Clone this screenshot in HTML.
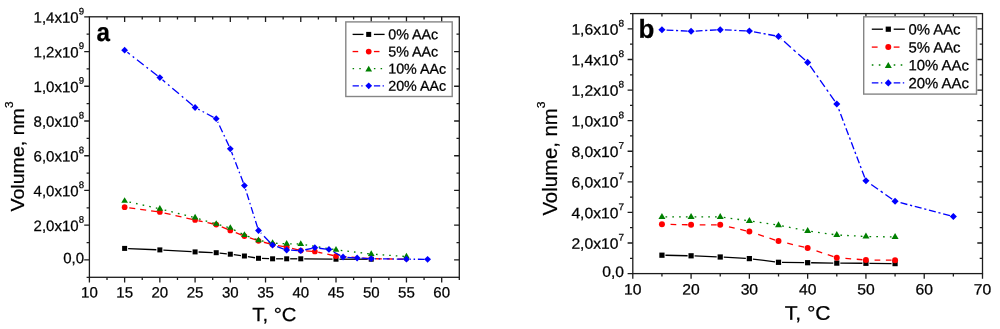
<!DOCTYPE html>
<html><head><meta charset="utf-8"><title>Volume vs T</title>
<style>html,body{margin:0;padding:0;background:#fff;}body{width:1000px;height:329px;overflow:hidden;}svg{display:block;will-change:transform;}svg text{font-family:"Liberation Sans", sans-serif;fill:#000;stroke:#000;stroke-width:0.25px;}</style>
</head><body>
<svg width="1000" height="329" viewBox="0 0 1000 329">
<rect width="1000" height="329" fill="#fff"/>
<g id="chart-a">
<path d="M89.4 277.3v5.2 M107.01 277.3v2.8 M107.01 16.8v2.8 M124.63 277.3v5.2 M124.63 16.8v5.2 M142.24 277.3v2.8 M142.24 16.8v2.8 M159.86 277.3v5.2 M159.86 16.8v5.2 M177.47 277.3v2.8 M177.47 16.8v2.8 M195.09 277.3v5.2 M195.09 16.8v5.2 M212.7 277.3v2.8 M212.7 16.8v2.8 M230.31 277.3v5.2 M230.31 16.8v5.2 M247.93 277.3v2.8 M247.93 16.8v2.8 M265.54 277.3v5.2 M265.54 16.8v5.2 M283.16 277.3v2.8 M283.16 16.8v2.8 M300.77 277.3v5.2 M300.77 16.8v5.2 M318.39 277.3v2.8 M318.39 16.8v2.8 M336 277.3v5.2 M336 16.8v5.2 M353.61 277.3v2.8 M353.61 16.8v2.8 M371.23 277.3v5.2 M371.23 16.8v5.2 M388.84 277.3v2.8 M388.84 16.8v2.8 M406.46 277.3v5.2 M406.46 16.8v5.2 M424.07 277.3v2.8 M424.07 16.8v2.8 M441.69 277.3v5.2 M441.69 16.8v5.2 M459.3 277.3v2.8 M89.4 277.3h-2.8 M89.4 259.93h-5.2 M459.3 259.93h-5.2 M89.4 242.57h-2.8 M459.3 242.57h-2.8 M89.4 225.2h-5.2 M459.3 225.2h-5.2 M89.4 207.83h-2.8 M459.3 207.83h-2.8 M89.4 190.47h-5.2 M459.3 190.47h-5.2 M89.4 173.1h-2.8 M459.3 173.1h-2.8 M89.4 155.73h-5.2 M459.3 155.73h-5.2 M89.4 138.37h-2.8 M459.3 138.37h-2.8 M89.4 121h-5.2 M459.3 121h-5.2 M89.4 103.63h-2.8 M459.3 103.63h-2.8 M89.4 86.27h-5.2 M459.3 86.27h-5.2 M89.4 68.9h-2.8 M459.3 68.9h-2.8 M89.4 51.53h-5.2 M459.3 51.53h-5.2 M89.4 34.17h-2.8 M459.3 34.17h-2.8 M89.4 16.8h-5.2" stroke="#1c1c1c" stroke-width="1.3" fill="none"/>
<rect x="89.4" y="16.8" width="369.9" height="260.5" fill="none" stroke="#1c1c1c" stroke-width="1.3"/>
<text transform="translate(89.4 297.5) rotate(0.1)" font-size="15" text-anchor="middle">10</text>
<text transform="translate(124.63 297.5) rotate(0.1)" font-size="15" text-anchor="middle">15</text>
<text transform="translate(159.86 297.5) rotate(0.1)" font-size="15" text-anchor="middle">20</text>
<text transform="translate(195.09 297.5) rotate(0.1)" font-size="15" text-anchor="middle">25</text>
<text transform="translate(230.31 297.5) rotate(0.1)" font-size="15" text-anchor="middle">30</text>
<text transform="translate(265.54 297.5) rotate(0.1)" font-size="15" text-anchor="middle">35</text>
<text transform="translate(300.77 297.5) rotate(0.1)" font-size="15" text-anchor="middle">40</text>
<text transform="translate(336 297.5) rotate(0.1)" font-size="15" text-anchor="middle">45</text>
<text transform="translate(371.23 297.5) rotate(0.1)" font-size="15" text-anchor="middle">50</text>
<text transform="translate(406.46 297.5) rotate(0.1)" font-size="15" text-anchor="middle">55</text>
<text transform="translate(441.69 297.5) rotate(0.1)" font-size="15" text-anchor="middle">60</text>
<text transform="translate(84 263.33) rotate(0.1)" font-size="15" text-anchor="end">0,0</text>
<text transform="translate(84 231.1) rotate(0.1)" font-size="15" text-anchor="end">2,0x10<tspan font-size="9.6" dy="-8.3">8</tspan></text>
<text transform="translate(84 196.37) rotate(0.1)" font-size="15" text-anchor="end">4,0x10<tspan font-size="9.6" dy="-8.3">8</tspan></text>
<text transform="translate(84 161.63) rotate(0.1)" font-size="15" text-anchor="end">6,0x10<tspan font-size="9.6" dy="-8.3">8</tspan></text>
<text transform="translate(84 126.9) rotate(0.1)" font-size="15" text-anchor="end">8,0x10<tspan font-size="9.6" dy="-8.3">8</tspan></text>
<text transform="translate(84 92.17) rotate(0.1)" font-size="15" text-anchor="end">1,0x10<tspan font-size="9.6" dy="-8.3">9</tspan></text>
<text transform="translate(84 57.43) rotate(0.1)" font-size="15" text-anchor="end">1,2x10<tspan font-size="9.6" dy="-8.3">9</tspan></text>
<text transform="translate(84 22.7) rotate(0.1)" font-size="15" text-anchor="end">1,4x10<tspan font-size="9.6" dy="-8.3">9</tspan></text>
<text transform="translate(274.4 321.1) rotate(0.1) scale(1.07 1.0)" font-size="19" text-anchor="middle">T, °C</text>
<text transform="translate(24.2 211.6) rotate(-90) scale(1.033 1.0)" font-size="19">Volume, nm<tspan font-size="11.5" dy="-10.9">3</tspan></text>
<text transform="translate(96.6 41) rotate(0.1) scale(0.93 1.0)" font-size="26" font-weight="bold">a</text>
<line x1="156.36" y1="249.75" x2="128.13" y2="248.55" stroke="#000000" stroke-width="1.32"/>
<line x1="191.59" y1="251.7" x2="163.35" y2="250.1" stroke="#000000" stroke-width="1.32"/>
<line x1="212.73" y1="252.57" x2="198.58" y2="252.03" stroke="#000000" stroke-width="1.32"/>
<line x1="226.83" y1="253.83" x2="219.7" y2="253.07" stroke="#000000" stroke-width="1.32"/>
<line x1="240.93" y1="255.56" x2="233.79" y2="254.64" stroke="#000000" stroke-width="1.32"/>
<line x1="255.04" y1="257.74" x2="247.86" y2="256.56" stroke="#000000" stroke-width="1.32"/>
<line x1="269.09" y1="258.68" x2="261.99" y2="258.42" stroke="#000000" stroke-width="1.32"/>
<line x1="283.18" y1="258.8" x2="276.09" y2="258.8" stroke="#000000" stroke-width="1.32"/>
<line x1="297.27" y1="258.8" x2="290.18" y2="258.8" stroke="#000000" stroke-width="1.32"/>
<line x1="332.5" y1="259.16" x2="304.27" y2="258.84" stroke="#000000" stroke-width="1.32"/>
<line x1="367.73" y1="259.2" x2="339.5" y2="259.2" stroke="#000000" stroke-width="1.32"/>
<rect x="122.13" y="245.9" width="5" height="5" fill="#000000"/>
<rect x="157.36" y="247.4" width="5" height="5" fill="#000000"/>
<rect x="192.59" y="249.4" width="5" height="5" fill="#000000"/>
<rect x="213.72" y="250.2" width="5" height="5" fill="#000000"/>
<rect x="227.81" y="251.7" width="5" height="5" fill="#000000"/>
<rect x="241.91" y="253.5" width="5" height="5" fill="#000000"/>
<rect x="256" y="255.8" width="5" height="5" fill="#000000"/>
<rect x="270.09" y="256.3" width="5" height="5" fill="#000000"/>
<rect x="284.18" y="256.3" width="5" height="5" fill="#000000"/>
<rect x="298.27" y="256.3" width="5" height="5" fill="#000000"/>
<rect x="333.5" y="256.7" width="5" height="5" fill="#000000"/>
<rect x="368.73" y="256.7" width="5" height="5" fill="#000000"/>
<line x1="157.08" y1="211.62" x2="128.1" y2="207.67" stroke="#ff0000" stroke-width="1.32" stroke-dasharray="6.06 4.95"/>
<line x1="192.36" y1="219.38" x2="163.27" y2="212.78" stroke="#ff0000" stroke-width="1.32" stroke-dasharray="6.15 5.02"/>
<line x1="213.49" y1="224" x2="198.51" y2="220.74" stroke="#ff0000" stroke-width="1.32" stroke-dasharray="6.14 5.01"/>
<line x1="227.73" y1="229.42" x2="219.45" y2="225.95" stroke="#ff0000" stroke-width="1.32" stroke-dasharray="6.5 5.31"/>
<line x1="241.8" y1="235.07" x2="233.57" y2="231.79" stroke="#ff0000" stroke-width="1.32" stroke-dasharray="6.46 5.27"/>
<line x1="255.84" y1="239.91" x2="247.73" y2="237.21" stroke="#ff0000" stroke-width="1.32" stroke-dasharray="6.32 5.17"/>
<line x1="269.89" y1="243.87" x2="261.88" y2="241.71" stroke="#ff0000" stroke-width="1.32" stroke-dasharray="6.21 5.08"/>
<line x1="283.93" y1="246.69" x2="276.03" y2="245.24" stroke="#ff0000" stroke-width="1.32" stroke-dasharray="6.1 4.98"/>
<line x1="298.05" y1="249.86" x2="290.09" y2="248" stroke="#ff0000" stroke-width="1.32" stroke-dasharray="6.16 5.03"/>
<line x1="312.07" y1="251.3" x2="304.26" y2="250.75" stroke="#ff0000" stroke-width="1.32" stroke-dasharray="6.02 4.91"/>
<line x1="333.26" y1="255.5" x2="318.28" y2="252.24" stroke="#ff0000" stroke-width="1.32" stroke-dasharray="6.14 5.01"/>
<line x1="368.44" y1="258.49" x2="339.49" y2="256.36" stroke="#ff0000" stroke-width="1.32" stroke-dasharray="6.02 4.91"/>
<line x1="403.66" y1="259.16" x2="374.73" y2="258.75" stroke="#ff0000" stroke-width="1.32" stroke-dasharray="6 4.9"/>
<circle cx="124.63" cy="207.2" r="2.85" fill="#ff0000"/>
<circle cx="159.86" cy="212" r="2.85" fill="#ff0000"/>
<circle cx="195.09" cy="220" r="2.85" fill="#ff0000"/>
<circle cx="216.22" cy="224.6" r="2.85" fill="#ff0000"/>
<circle cx="230.31" cy="230.5" r="2.85" fill="#ff0000"/>
<circle cx="244.41" cy="236.1" r="2.85" fill="#ff0000"/>
<circle cx="258.5" cy="240.8" r="2.85" fill="#ff0000"/>
<circle cx="272.59" cy="244.6" r="2.85" fill="#ff0000"/>
<circle cx="286.68" cy="247.2" r="2.85" fill="#ff0000"/>
<circle cx="300.77" cy="250.5" r="2.85" fill="#ff0000"/>
<circle cx="314.86" cy="251.5" r="2.85" fill="#ff0000"/>
<circle cx="336" cy="256.1" r="2.85" fill="#ff0000"/>
<circle cx="371.23" cy="258.7" r="2.28" fill="#ff0000"/>
<circle cx="406.46" cy="259.2" r="2.28" fill="#ff0000"/>
<line x1="157.42" y1="208.3" x2="128.04" y2="201.72" stroke="#008000" stroke-width="1.32" stroke-dasharray="1.64 5.12"/>
<line x1="192.66" y1="217.04" x2="163.25" y2="209.7" stroke="#008000" stroke-width="1.32" stroke-dasharray="1.65 5.15"/>
<line x1="213.83" y1="223.24" x2="198.44" y2="218.65" stroke="#008000" stroke-width="1.32" stroke-dasharray="1.67 5.22"/>
<line x1="227.91" y1="227.27" x2="219.59" y2="224.91" stroke="#008000" stroke-width="1.32" stroke-dasharray="1.66 5.2"/>
<line x1="242.17" y1="233.93" x2="233.44" y2="229.52" stroke="#008000" stroke-width="1.32" stroke-dasharray="1.79 5.6"/>
<line x1="256.15" y1="239.38" x2="247.69" y2="236.26" stroke="#008000" stroke-width="1.32" stroke-dasharray="1.71 5.33"/>
<line x1="270.14" y1="242.56" x2="261.93" y2="240.93" stroke="#008000" stroke-width="1.32" stroke-dasharray="1.63 5.1"/>
<line x1="284.18" y1="243.63" x2="276.08" y2="243.22" stroke="#008000" stroke-width="1.32" stroke-dasharray="1.6 5.01"/>
<line x1="298.27" y1="244" x2="290.18" y2="243.82" stroke="#008000" stroke-width="1.32" stroke-dasharray="1.6 5"/>
<line x1="333.53" y1="249.44" x2="304.22" y2="244.62" stroke="#008000" stroke-width="1.32" stroke-dasharray="1.62 5.07"/>
<line x1="368.75" y1="253.75" x2="339.48" y2="250.26" stroke="#008000" stroke-width="1.32" stroke-dasharray="1.61 5.04"/>
<line x1="403.96" y1="256.37" x2="374.72" y2="254.3" stroke="#008000" stroke-width="1.32" stroke-dasharray="1.6 5.01"/>
<polygon points="124.63,197.15 121.28,202.85 127.98,202.85" fill="#008000"/>
<polygon points="159.86,205.05 156.51,210.75 163.21,210.75" fill="#008000"/>
<polygon points="195.09,213.85 191.74,219.55 198.44,219.55" fill="#008000"/>
<polygon points="216.22,220.15 212.87,225.85 219.57,225.85" fill="#008000"/>
<polygon points="230.31,224.15 226.96,229.85 233.66,229.85" fill="#008000"/>
<polygon points="244.41,231.25 241.06,236.95 247.76,236.95" fill="#008000"/>
<polygon points="258.5,236.45 255.15,242.15 261.85,242.15" fill="#008000"/>
<polygon points="272.59,239.25 269.24,244.95 275.94,244.95" fill="#008000"/>
<polygon points="286.68,239.95 283.33,245.65 290.03,245.65" fill="#008000"/>
<polygon points="300.77,240.25 297.42,245.95 304.12,245.95" fill="#008000"/>
<polygon points="336,246.05 332.65,251.75 339.35,251.75" fill="#008000"/>
<polygon points="371.23,250.25 367.88,255.95 374.58,255.95" fill="#008000"/>
<polygon points="406.46,252.75 403.11,258.45 409.81,258.45" fill="#008000"/>
<line x1="157.49" y1="75.76" x2="127.39" y2="52.35" stroke="#0000ff" stroke-width="1.32" stroke-dasharray="8.49 3.55 1.9 3.55"/>
<line x1="192.8" y1="105.56" x2="162.53" y2="79.86" stroke="#0000ff" stroke-width="1.32" stroke-dasharray="8.79 3.67 1.97 3.67"/>
<line x1="213.57" y1="117.3" x2="198.18" y2="109.14" stroke="#0000ff" stroke-width="1.32" stroke-dasharray="7.58 3.17 1.7 3.17"/>
<line x1="229.04" y1="146.08" x2="217.71" y2="121.87" stroke="#0000ff" stroke-width="1.32" stroke-dasharray="7.4 3.09 1.66 3.09"/>
<line x1="243.33" y1="182.8" x2="231.57" y2="152.07" stroke="#0000ff" stroke-width="1.32" stroke-dasharray="7.17 3 1.61 3"/>
<line x1="257.6" y1="227.64" x2="245.45" y2="188.94" stroke="#0000ff" stroke-width="1.32" stroke-dasharray="7.02 2.93 1.57 2.93"/>
<line x1="270.51" y1="242.94" x2="260.93" y2="233.02" stroke="#0000ff" stroke-width="1.32" stroke-dasharray="9.31 3.89 2.08 3.89"/>
<line x1="283.85" y1="249.01" x2="275.89" y2="246.25" stroke="#0000ff" stroke-width="1.32" stroke-dasharray="7.09 2.96 1.59 2.96"/>
<line x1="297.78" y1="250.55" x2="290.18" y2="250.17" stroke="#0000ff" stroke-width="1.32" stroke-dasharray="6.71 2.8 1.5 2.8"/>
<line x1="311.93" y1="248.32" x2="304.19" y2="249.97" stroke="#0000ff" stroke-width="1.32" stroke-dasharray="6.85 2.86 1.53 2.86"/>
<line x1="325.98" y1="249.04" x2="318.34" y2="248.12" stroke="#0000ff" stroke-width="1.32" stroke-dasharray="6.75 2.82 1.51 2.82"/>
<line x1="340.41" y1="255.58" x2="332.03" y2="251.06" stroke="#0000ff" stroke-width="1.32" stroke-dasharray="7.61 3.18 1.7 3.18"/>
<line x1="354.14" y1="257.79" x2="346.54" y2="257.25" stroke="#0000ff" stroke-width="1.32" stroke-dasharray="6.72 2.81 1.5 2.81"/>
<line x1="368.23" y1="258.55" x2="360.63" y2="258.17" stroke="#0000ff" stroke-width="1.32" stroke-dasharray="6.71 2.8 1.5 2.8"/>
<line x1="403.46" y1="259.16" x2="374.73" y2="258.75" stroke="#0000ff" stroke-width="1.32" stroke-dasharray="6.7 2.8 1.5 2.8"/>
<line x1="424.59" y1="259.29" x2="409.96" y2="259.22" stroke="#0000ff" stroke-width="1.32" stroke-dasharray="6.7 2.8 1.5 2.8"/>
<polygon points="124.63,46.8 128.03,50.2 124.63,53.6 121.23,50.2" fill="#0000ff"/>
<polygon points="159.86,74.2 163.26,77.6 159.86,81 156.46,77.6" fill="#0000ff"/>
<polygon points="195.09,104.1 198.49,107.5 195.09,110.9 191.69,107.5" fill="#0000ff"/>
<polygon points="216.22,115.3 219.62,118.7 216.22,122.1 212.82,118.7" fill="#0000ff"/>
<polygon points="230.31,145.4 233.71,148.8 230.31,152.2 226.91,148.8" fill="#0000ff"/>
<polygon points="244.41,182.2 247.81,185.6 244.41,189 241.01,185.6" fill="#0000ff"/>
<polygon points="258.5,227.1 261.9,230.5 258.5,233.9 255.1,230.5" fill="#0000ff"/>
<polygon points="272.59,241.7 275.99,245.1 272.59,248.5 269.19,245.1" fill="#0000ff"/>
<polygon points="286.68,246.6 290.08,250 286.68,253.4 283.28,250" fill="#0000ff"/>
<polygon points="300.77,247.3 304.17,250.7 300.77,254.1 297.37,250.7" fill="#0000ff"/>
<polygon points="314.86,244.3 318.26,247.7 314.86,251.1 311.46,247.7" fill="#0000ff"/>
<polygon points="328.95,246 332.35,249.4 328.95,252.8 325.55,249.4" fill="#0000ff"/>
<polygon points="343.05,253.6 346.45,257 343.05,260.4 339.65,257" fill="#0000ff"/>
<polygon points="357.14,254.6 360.54,258 357.14,261.4 353.74,258" fill="#0000ff"/>
<polygon points="371.23,255.3 374.63,258.7 371.23,262.1 367.83,258.7" fill="#0000ff"/>
<polygon points="406.46,255.8 409.86,259.2 406.46,262.6 403.06,259.2" fill="#0000ff"/>
<polygon points="427.59,255.9 430.99,259.3 427.59,262.7 424.19,259.3" fill="#0000ff"/>
<rect x="345.8" y="21.9" width="106.4" height="74.6" fill="#fff" stroke="#858585" stroke-width="1.4"/>
<line x1="352.6" y1="34.4" x2="363.5" y2="34.4" stroke="#000000" stroke-width="1.32"/>
<line x1="373.9" y1="34.4" x2="384.6" y2="34.4" stroke="#000000" stroke-width="1.32"/>
<rect x="366.2" y="31.9" width="5" height="5" fill="#000000"/>
<text transform="translate(388.2 39.3) rotate(0.1)" font-size="14.3">0% AAc</text>
<line x1="352.6" y1="51.55" x2="363.5" y2="51.55" stroke="#ff0000" stroke-width="1.32" stroke-dasharray="5.6 6"/>
<line x1="373.9" y1="51.55" x2="384.6" y2="51.55" stroke="#ff0000" stroke-width="1.32" stroke-dasharray="5.6 6"/>
<circle cx="368.7" cy="51.55" r="2.85" fill="#ff0000"/>
<text transform="translate(388.2 56.45) rotate(0.1)" font-size="14.3">5% AAc</text>
<line x1="352.6" y1="68.7" x2="363.5" y2="68.7" stroke="#008000" stroke-width="1.32" stroke-dasharray="1.5 5.2"/>
<line x1="373.9" y1="68.7" x2="384.6" y2="68.7" stroke="#008000" stroke-width="1.32" stroke-dasharray="1.5 5.2"/>
<polygon points="368.7,65.85 365.35,71.55 372.05,71.55" fill="#008000"/>
<text transform="translate(388.2 73.6) rotate(0.1)" font-size="14.3">10% AAc</text>
<line x1="352.6" y1="85.85" x2="363.5" y2="85.85" stroke="#0000ff" stroke-width="1.32" stroke-dasharray="6.3 2.4 1.3 2.4"/>
<line x1="373.9" y1="85.85" x2="384.6" y2="85.85" stroke="#0000ff" stroke-width="1.32" stroke-dasharray="6.3 2.4 1.3 2.4"/>
<polygon points="368.7,82.45 372.1,85.85 368.7,89.25 365.3,85.85" fill="#0000ff"/>
<text transform="translate(388.2 90.75) rotate(0.1)" font-size="14.3">20% AAc</text>
</g>
<g id="chart-b">
<path d="M632.8 273.6v5.2 M661.94 273.6v2.8 M661.94 13.6v2.8 M691.08 273.6v5.2 M691.08 13.6v5.2 M720.22 273.6v2.8 M720.22 13.6v2.8 M749.37 273.6v5.2 M749.37 13.6v5.2 M778.51 273.6v2.8 M778.51 13.6v2.8 M807.65 273.6v5.2 M807.65 13.6v5.2 M836.79 273.6v2.8 M836.79 13.6v2.8 M865.93 273.6v5.2 M865.93 13.6v5.2 M895.08 273.6v2.8 M895.08 13.6v2.8 M924.22 273.6v5.2 M924.22 13.6v5.2 M953.36 273.6v2.8 M953.36 13.6v2.8 M982.5 273.6v5.2 M632.8 273.6h-5.2 M632.8 258.31h-2.8 M982.5 258.31h-2.8 M632.8 243.01h-5.2 M982.5 243.01h-5.2 M632.8 227.72h-2.8 M982.5 227.72h-2.8 M632.8 212.42h-5.2 M982.5 212.42h-5.2 M632.8 197.13h-2.8 M982.5 197.13h-2.8 M632.8 181.84h-5.2 M982.5 181.84h-5.2 M632.8 166.54h-2.8 M982.5 166.54h-2.8 M632.8 151.25h-5.2 M982.5 151.25h-5.2 M632.8 135.95h-2.8 M982.5 135.95h-2.8 M632.8 120.66h-5.2 M982.5 120.66h-5.2 M632.8 105.36h-2.8 M982.5 105.36h-2.8 M632.8 90.07h-5.2 M982.5 90.07h-5.2 M632.8 74.78h-2.8 M982.5 74.78h-2.8 M632.8 59.48h-5.2 M982.5 59.48h-5.2 M632.8 44.19h-2.8 M982.5 44.19h-2.8 M632.8 28.89h-5.2 M982.5 28.89h-5.2 M632.8 13.6h-2.8" stroke="#1c1c1c" stroke-width="1.3" fill="none"/>
<rect x="632.8" y="13.6" width="349.7" height="260" fill="none" stroke="#1c1c1c" stroke-width="1.3"/>
<text transform="translate(632.8 294.6) rotate(0.1) scale(1.045 1.0)" font-size="15" text-anchor="middle">10</text>
<text transform="translate(691.08 294.6) rotate(0.1) scale(1.045 1.0)" font-size="15" text-anchor="middle">20</text>
<text transform="translate(749.37 294.6) rotate(0.1) scale(1.045 1.0)" font-size="15" text-anchor="middle">30</text>
<text transform="translate(807.65 294.6) rotate(0.1) scale(1.045 1.0)" font-size="15" text-anchor="middle">40</text>
<text transform="translate(865.93 294.6) rotate(0.1) scale(1.045 1.0)" font-size="15" text-anchor="middle">50</text>
<text transform="translate(924.22 294.6) rotate(0.1) scale(1.045 1.0)" font-size="15" text-anchor="middle">60</text>
<text transform="translate(982.5 294.6) rotate(0.1) scale(1.045 1.0)" font-size="15" text-anchor="middle">70</text>
<text transform="translate(624 276.9) rotate(0.1) scale(1.045 1.0)" font-size="15" text-anchor="end">0,0</text>
<text transform="translate(624 248.81) rotate(0.1) scale(1.045 1.0)" font-size="15" text-anchor="end">2,0x10<tspan font-size="9.6" dy="-8.3">7</tspan></text>
<text transform="translate(624 218.22) rotate(0.1) scale(1.045 1.0)" font-size="15" text-anchor="end">4,0x10<tspan font-size="9.6" dy="-8.3">7</tspan></text>
<text transform="translate(624 187.64) rotate(0.1) scale(1.045 1.0)" font-size="15" text-anchor="end">6,0x10<tspan font-size="9.6" dy="-8.3">7</tspan></text>
<text transform="translate(624 157.05) rotate(0.1) scale(1.045 1.0)" font-size="15" text-anchor="end">8,0x10<tspan font-size="9.6" dy="-8.3">7</tspan></text>
<text transform="translate(624 126.46) rotate(0.1) scale(1.045 1.0)" font-size="15" text-anchor="end">1,0x10<tspan font-size="9.6" dy="-8.3">8</tspan></text>
<text transform="translate(624 95.87) rotate(0.1) scale(1.045 1.0)" font-size="15" text-anchor="end">1,2x10<tspan font-size="9.6" dy="-8.3">8</tspan></text>
<text transform="translate(624 65.28) rotate(0.1) scale(1.045 1.0)" font-size="15" text-anchor="end">1,4x10<tspan font-size="9.6" dy="-8.3">8</tspan></text>
<text transform="translate(624 34.69) rotate(0.1) scale(1.045 1.0)" font-size="15" text-anchor="end">1,6x10<tspan font-size="9.6" dy="-8.3">8</tspan></text>
<text transform="translate(807.6 319.7) rotate(0.1) scale(1.07 1.0)" font-size="19.7" text-anchor="middle">T, °C</text>
<text transform="translate(557.3 215.6) rotate(-90) scale(1.033 1.0)" font-size="19.7">Volume, nm<tspan font-size="11.8" dy="-12">3</tspan></text>
<text transform="translate(638.5 37.7) rotate(0.1)" font-size="26" font-weight="bold">b</text>
<line x1="687.58" y1="255.73" x2="665.44" y2="255.27" stroke="#000000" stroke-width="1.32"/>
<line x1="716.73" y1="256.86" x2="694.58" y2="255.94" stroke="#000000" stroke-width="1.32"/>
<line x1="745.87" y1="258.41" x2="723.72" y2="257.19" stroke="#000000" stroke-width="1.32"/>
<line x1="775.04" y1="261.86" x2="752.84" y2="259.04" stroke="#000000" stroke-width="1.32"/>
<line x1="804.15" y1="262.65" x2="782.01" y2="262.35" stroke="#000000" stroke-width="1.32"/>
<line x1="833.29" y1="263.05" x2="811.15" y2="262.75" stroke="#000000" stroke-width="1.32"/>
<line x1="862.43" y1="263.28" x2="840.29" y2="263.12" stroke="#000000" stroke-width="1.32"/>
<line x1="891.58" y1="263.56" x2="869.43" y2="263.34" stroke="#000000" stroke-width="1.32"/>
<rect x="659.33" y="252.59" width="5.22" height="5.22" fill="#000000"/>
<rect x="688.47" y="253.19" width="5.22" height="5.22" fill="#000000"/>
<rect x="717.61" y="254.39" width="5.22" height="5.22" fill="#000000"/>
<rect x="746.75" y="255.99" width="5.22" height="5.22" fill="#000000"/>
<rect x="775.9" y="259.69" width="5.22" height="5.22" fill="#000000"/>
<rect x="805.04" y="260.09" width="5.22" height="5.22" fill="#000000"/>
<rect x="834.18" y="260.49" width="5.22" height="5.22" fill="#000000"/>
<rect x="863.32" y="260.69" width="5.22" height="5.22" fill="#000000"/>
<rect x="892.46" y="260.99" width="5.22" height="5.22" fill="#000000"/>
<line x1="687.58" y1="224.74" x2="665.44" y2="224.36" stroke="#ff0000" stroke-width="1.32" stroke-dasharray="5.7 5.6"/>
<line x1="716.72" y1="224.8" x2="694.58" y2="224.8" stroke="#ff0000" stroke-width="1.32" stroke-dasharray="5.7 5.6"/>
<line x1="745.96" y1="230.8" x2="723.63" y2="225.6" stroke="#ff0000" stroke-width="1.32" stroke-dasharray="5.85 5.75"/>
<line x1="775.18" y1="240.02" x2="752.69" y2="232.68" stroke="#ff0000" stroke-width="1.32" stroke-dasharray="6 5.89"/>
<line x1="804.24" y1="247.19" x2="781.91" y2="241.91" stroke="#ff0000" stroke-width="1.32" stroke-dasharray="5.86 5.75"/>
<line x1="833.47" y1="256.59" x2="810.97" y2="249.11" stroke="#ff0000" stroke-width="1.32" stroke-dasharray="6.01 5.9"/>
<line x1="862.44" y1="259.72" x2="840.28" y2="257.98" stroke="#ff0000" stroke-width="1.32" stroke-dasharray="5.72 5.62"/>
<line x1="891.58" y1="260.18" x2="869.43" y2="260.02" stroke="#ff0000" stroke-width="1.32" stroke-dasharray="5.7 5.6"/>
<circle cx="661.94" cy="224.3" r="2.98" fill="#ff0000"/>
<circle cx="691.08" cy="224.8" r="2.98" fill="#ff0000"/>
<circle cx="720.22" cy="224.8" r="2.98" fill="#ff0000"/>
<circle cx="749.37" cy="231.6" r="2.98" fill="#ff0000"/>
<circle cx="778.51" cy="241.1" r="2.98" fill="#ff0000"/>
<circle cx="807.65" cy="248" r="2.98" fill="#ff0000"/>
<circle cx="836.79" cy="257.7" r="2.98" fill="#ff0000"/>
<circle cx="865.93" cy="260" r="2.98" fill="#ff0000"/>
<circle cx="895.08" cy="260.2" r="2.98" fill="#ff0000"/>
<line x1="687.58" y1="216.89" x2="665.44" y2="216.89" stroke="#008000" stroke-width="1.32" stroke-dasharray="1.7 5.1"/>
<line x1="716.72" y1="216.89" x2="694.58" y2="216.89" stroke="#008000" stroke-width="1.32" stroke-dasharray="1.7 5.1"/>
<line x1="745.9" y1="220.42" x2="723.69" y2="217.37" stroke="#008000" stroke-width="1.32" stroke-dasharray="1.72 5.15"/>
<line x1="775.05" y1="224.68" x2="752.83" y2="221.4" stroke="#008000" stroke-width="1.32" stroke-dasharray="1.72 5.16"/>
<line x1="804.22" y1="230.22" x2="781.94" y2="225.86" stroke="#008000" stroke-width="1.32" stroke-dasharray="1.73 5.2"/>
<line x1="833.33" y1="234.51" x2="811.12" y2="231.38" stroke="#008000" stroke-width="1.32" stroke-dasharray="1.72 5.15"/>
<line x1="862.44" y1="236.31" x2="840.29" y2="235.17" stroke="#008000" stroke-width="1.32" stroke-dasharray="1.7 5.11"/>
<line x1="891.58" y1="236.93" x2="869.43" y2="236.55" stroke="#008000" stroke-width="1.32" stroke-dasharray="1.7 5.1"/>
<polygon points="661.94,212.92 658.44,218.88 665.44,218.88" fill="#008000"/>
<polygon points="691.08,212.92 687.58,218.88 694.58,218.88" fill="#008000"/>
<polygon points="720.22,212.92 716.72,218.88 723.73,218.88" fill="#008000"/>
<polygon points="749.37,216.92 745.87,222.88 752.87,222.88" fill="#008000"/>
<polygon points="778.51,221.22 775.01,227.18 782.01,227.18" fill="#008000"/>
<polygon points="807.65,226.92 804.15,232.88 811.15,232.88" fill="#008000"/>
<polygon points="836.79,231.02 833.29,236.98 840.29,236.98" fill="#008000"/>
<polygon points="865.93,232.52 862.43,238.48 869.43,238.48" fill="#008000"/>
<polygon points="895.08,233.02 891.57,238.98 898.58,238.98" fill="#008000"/>
<line x1="687.59" y1="31.12" x2="665.44" y2="29.98" stroke="#0000ff" stroke-width="1.32" stroke-dasharray="6.81 2.65 2.1 2.65"/>
<line x1="716.73" y1="29.89" x2="694.58" y2="31.11" stroke="#0000ff" stroke-width="1.32" stroke-dasharray="6.81 2.65 2.1 2.65"/>
<line x1="745.87" y1="30.84" x2="723.72" y2="29.86" stroke="#0000ff" stroke-width="1.32" stroke-dasharray="6.81 2.65 2.1 2.65"/>
<line x1="775.07" y1="35.76" x2="752.81" y2="31.64" stroke="#0000ff" stroke-width="1.32" stroke-dasharray="6.92 2.7 2.14 2.7"/>
<line x1="805.04" y1="60.07" x2="781.12" y2="38.73" stroke="#0000ff" stroke-width="1.32" stroke-dasharray="9.11 3.55 2.81 3.55"/>
<line x1="834.78" y1="101.13" x2="809.66" y2="65.27" stroke="#0000ff" stroke-width="1.32" stroke-dasharray="8.3 3.24 2.56 3.24"/>
<line x1="864.69" y1="177.53" x2="838.03" y2="107.27" stroke="#0000ff" stroke-width="1.32" stroke-dasharray="7.27 2.83 2.25 2.83"/>
<line x1="892.21" y1="199.29" x2="868.8" y2="182.81" stroke="#0000ff" stroke-width="1.32" stroke-dasharray="8.31 3.24 2.57 3.24"/>
<line x1="949.97" y1="215.62" x2="898.46" y2="202.18" stroke="#0000ff" stroke-width="1.32" stroke-dasharray="7.03 2.74 2.17 2.74"/>
<polygon points="661.94,26.25 665.49,29.8 661.94,33.35 658.39,29.8" fill="#0000ff"/>
<polygon points="691.08,27.75 694.64,31.3 691.08,34.85 687.53,31.3" fill="#0000ff"/>
<polygon points="720.22,26.15 723.78,29.7 720.22,33.25 716.67,29.7" fill="#0000ff"/>
<polygon points="749.37,27.45 752.92,31 749.37,34.55 745.81,31" fill="#0000ff"/>
<polygon points="778.51,32.85 782.06,36.4 778.51,39.95 774.96,36.4" fill="#0000ff"/>
<polygon points="807.65,58.85 811.2,62.4 807.65,65.95 804.1,62.4" fill="#0000ff"/>
<polygon points="836.79,100.45 840.34,104 836.79,107.55 833.24,104" fill="#0000ff"/>
<polygon points="865.93,177.25 869.49,180.8 865.93,184.35 862.38,180.8" fill="#0000ff"/>
<polygon points="895.08,197.75 898.63,201.3 895.08,204.85 891.52,201.3" fill="#0000ff"/>
<polygon points="953.36,212.95 956.91,216.5 953.36,220.05 949.81,216.5" fill="#0000ff"/>
<rect x="863.7" y="16.8" width="112.8" height="77.3" fill="#fff" stroke="#858585" stroke-width="1.4"/>
<line x1="871.8" y1="29.2" x2="882.9" y2="29.2" stroke="#000000" stroke-width="1.32"/>
<line x1="893.7" y1="29.2" x2="904.8" y2="29.2" stroke="#000000" stroke-width="1.32"/>
<rect x="885.69" y="26.59" width="5.22" height="5.22" fill="#000000"/>
<text transform="translate(908.4 34.5) rotate(0.1)" font-size="14.9">0% AAc</text>
<line x1="871.8" y1="47.1" x2="882.9" y2="47.1" stroke="#ff0000" stroke-width="1.32" stroke-dasharray="5.8 6.2"/>
<line x1="893.7" y1="47.1" x2="904.8" y2="47.1" stroke="#ff0000" stroke-width="1.32" stroke-dasharray="5.8 6.2"/>
<circle cx="888.3" cy="47.1" r="2.98" fill="#ff0000"/>
<text transform="translate(908.4 52.4) rotate(0.1)" font-size="14.9">5% AAc</text>
<line x1="871.8" y1="65" x2="882.9" y2="65" stroke="#008000" stroke-width="1.32" stroke-dasharray="1.6 5.4"/>
<line x1="893.7" y1="65" x2="904.8" y2="65" stroke="#008000" stroke-width="1.32" stroke-dasharray="1.6 5.4"/>
<polygon points="888.3,62.02 884.8,67.98 891.8,67.98" fill="#008000"/>
<text transform="translate(908.4 70.3) rotate(0.1)" font-size="14.9">10% AAc</text>
<line x1="871.8" y1="82.9" x2="882.9" y2="82.9" stroke="#0000ff" stroke-width="1.32" stroke-dasharray="6.6 2.5 1.4 2.5"/>
<line x1="893.7" y1="82.9" x2="904.8" y2="82.9" stroke="#0000ff" stroke-width="1.32" stroke-dasharray="6.6 2.5 1.4 2.5"/>
<polygon points="888.3,79.35 891.85,82.9 888.3,86.45 884.75,82.9" fill="#0000ff"/>
<text transform="translate(908.4 88.2) rotate(0.1)" font-size="14.9">20% AAc</text>
</g>
</svg></body></html>
